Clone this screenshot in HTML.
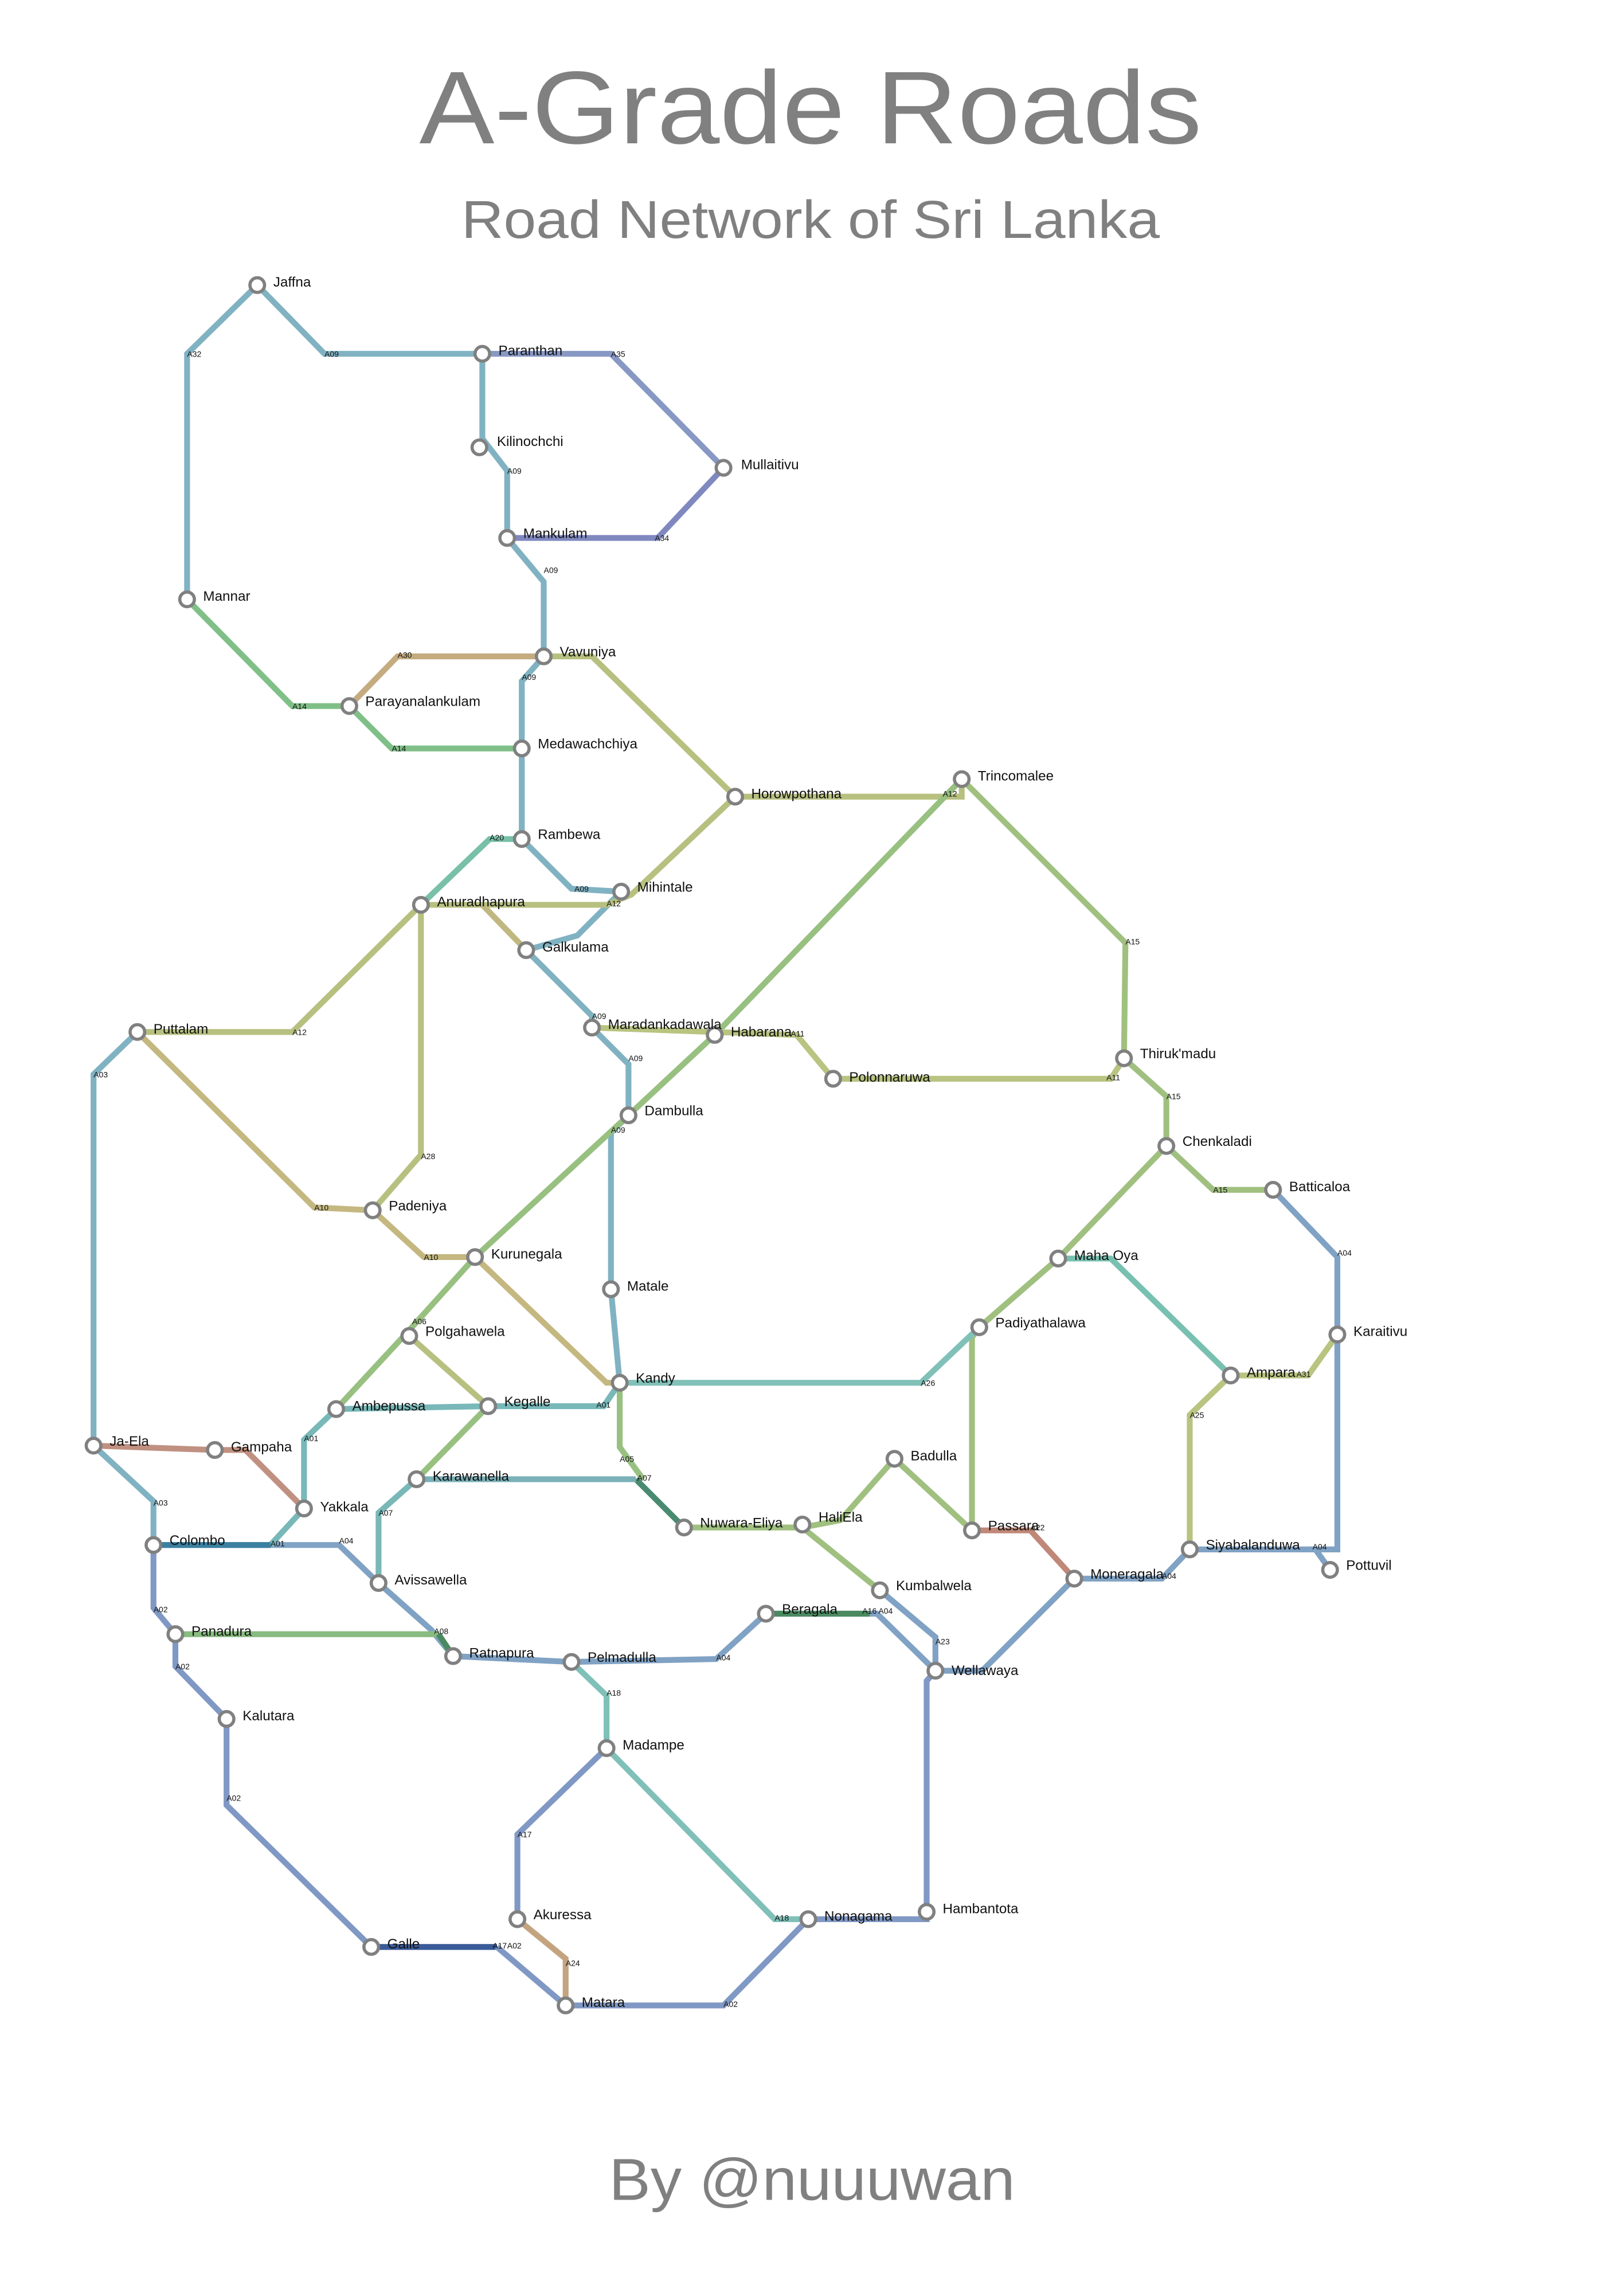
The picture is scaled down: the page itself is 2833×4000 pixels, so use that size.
<!DOCTYPE html>
<html><head><meta charset="utf-8"><style>
html,body{margin:0;padding:0;background:#fff}
svg{display:block}
text{font-family:"Liberation Sans",sans-serif}
.n{fill:#fff;stroke:#808080;stroke-width:2.2}
.l{font-size:9.5px;fill:#111}
.r{font-size:5.5px;fill:#111}
path{fill:none;stroke-width:4;stroke-linejoin:miter}
</style></head><body>
<svg width="2833" height="4000" viewBox="0 0 1100 1553" xmlns="http://www.w3.org/2000/svg">
<rect width="1100" height="1553" fill="#fff"/>
<text x="549" y="97" text-anchor="middle" font-size="70" fill="#808080" textLength="530" lengthAdjust="spacingAndGlyphs">A-Grade Roads</text>
<text x="549" y="161" text-anchor="middle" font-size="36" fill="#808080" textLength="473" lengthAdjust="spacingAndGlyphs">Road Network of Sri Lanka</text>
<text x="550" y="1490" text-anchor="middle" font-size="40" fill="#808080" textLength="275" lengthAdjust="spacingAndGlyphs">By @nuuuwan</text>

<g transform="scale(0.99)">
<!-- roads -->
<path stroke="#80b2c2" d="M128,410 L128,242 L176,195 L222,242 L330,242 L330,300 L347,322 L347,368 L372,398 L372,449 L357,466 L357,574 L391,608 L425,610 L395,640 L360,650 L405,695 L405,703 L430,728 L430,763 L418,775 L418,882 L424,946"/>
<path stroke="#8898c4" d="M330,242 L418,242 L495,320"/>
<path stroke="#8088c0" d="M347,368 L450,368 L495,320"/>
<path stroke="#80c088" d="M128,410 L200,483 L239,483 L268,512 L357,512"/>
<path stroke="#c4ac80" d="M239,483 L272,449 L372,449"/>
<path stroke="#b8c080" d="M372,449 L405,449 L503,545 L658,545 L658,533"/>
<path stroke="#b8c080" d="M503,545 L432,612 L415,619 L288,619 L200,706 L94,706"/>
<path stroke="#78c0a8" d="M357,574 L335,574 L288,619"/>
<path stroke="#b8c080" d="M288,619 L288,790 L255,828"/>
<path stroke="#c0b880" d="M330,619 L360,650"/>
<path stroke="#c4b880" d="M94,706 L215,826 L255,828 L290,860 L325,860 L415,946 L424,946"/>
<path stroke="#98c080" d="M658,533 L489,708 L430,763 L325,860 L280,910 L230,964"/>
<path stroke="#b8c480" d="M405,703 L545,708 L570,738 L760,738 L769,724"/>
<path stroke="#a0c080" d="M658,533 L770,645 L769,724 L798,750 L798,784 L830,814 L871,814"/>
<path stroke="#a0c080" d="M798,784 L724,861 L670,908 L665,915 L665,1047 L612,998 L575,1040 L549,1045 L468,1045"/>
<path stroke="#a0c080" d="M549,1045 L602,1088"/>
<path stroke="#98c080" d="M424,946 L424,990 L440,1012"/>
<path stroke="#4a8a70" d="M435,1012 L468,1045"/>
<path stroke="#78c0b0" d="M724,861 L760,861 L842,941"/>
<path stroke="#80c0b8" d="M424,946 L630,946 L670,908"/>
<path stroke="#80a2c4" d="M871,814 L915,860 L915,1060 L900,1060 L910,1074"/>
<path stroke="#80a2c4" d="M814,1060 L900,1060"/>
<path stroke="#80a2c4" d="M814,1060 L795,1080 L735,1080 L672,1143 L640,1143 L600,1104 L524,1104 L490,1135 L391,1137 L310,1133 L295,1115 L259,1083 L232,1057 L105,1057"/>
<path stroke="#80a2c4" d="M602,1088 L640,1120 L640,1143"/>
<path stroke="#4a8a60" d="M524,1104 L595,1104"/>
<path stroke="#b8c480" d="M915,913 L895,941 L842,941 L814,968 L814,1060"/>
<path stroke="#c08878" d="M665,1047 L705,1047 L735,1080"/>
<path stroke="#78b8b8" d="M424,946 L413,962 L334,962 L230,964 L208,985 L208,1032 L185,1057"/>
<path stroke="#3a80a0" d="M185,1057 L105,1057"/>
<path stroke="#b8c080" d="M280,914 L334,962"/>
<path stroke="#98c080" d="M334,962 L285,1012"/>
<path stroke="#7ab0b8" d="M285,1012 L435,1012"/>
<path stroke="#7ab8b8" d="M285,1012 L259,1035 L259,1083"/>
<path stroke="#80b2c2" d="M94,706 L64,735 L64,989 L105,1027 L105,1057"/>
<path stroke="#c09080" d="M64,989 L147,992 L168,992 L208,1032"/>
<path stroke="#8098c4" d="M105,1057 L105,1100 L120,1118 L120,1140 L155,1176 L155,1235 L254,1332"/>
<path stroke="#88bc80" d="M120,1118 L300,1118"/>
<path stroke="#4a8a60" d="M300,1118 L310,1133"/>
<path stroke="#80c0b8" d="M391,1137 L415,1160 L415,1196 L530,1313 L553,1313"/>
<path stroke="#8098c4" d="M415,1196 L354,1255 L354,1313"/>
<path stroke="#c4a480" d="M354,1313 L387,1340 L387,1372"/>
<path stroke="#3a5a98" d="M254,1332 L340,1332"/>
<path stroke="#8098c4" d="M340,1332 L387,1372 L495,1372 L553,1313 L634,1313 L634,1150 L640,1143"/>

<!-- road labels -->
<g class="r">
<text x="128" y="244">A32</text><text x="222" y="244">A09</text><text x="418" y="244">A35</text>
<text x="347" y="324">A09</text><text x="448" y="370">A34</text><text x="372" y="392">A09</text>
<text x="272" y="450">A30</text><text x="357" y="465">A09</text><text x="200" y="485">A14</text><text x="268" y="514">A14</text>
<text x="645" y="545">A12</text><text x="335" y="575">A20</text><text x="393" y="610">A09</text><text x="415" y="620">A12</text>
<text x="200" y="708">A12</text><text x="405" y="697">A09</text><text x="430" y="726">A09</text><text x="418" y="775">A09</text>
<text x="541" y="709">A11</text><text x="757" y="739">A11</text><text x="770" y="646">A15</text><text x="798" y="752">A15</text><text x="830" y="816">A15</text>
<text x="64" y="737">A03</text><text x="288" y="793">A28</text><text x="215" y="828">A10</text><text x="290" y="862">A10</text>
<text x="915" y="859">A04</text><text x="887" y="942">A31</text><text x="814" y="970">A25</text><text x="898" y="1060">A04</text><text x="795" y="1080">A04</text>
<text x="630" y="948">A26</text><text x="282" y="906">A06</text><text x="208" y="986">A01</text><text x="408" y="963">A01</text><text x="185" y="1058">A01</text>
<text x="232" y="1056">A04</text><text x="424" y="1000">A05</text><text x="436" y="1013">A07</text><text x="259" y="1037">A07</text>
<text x="105" y="1030">A03</text><text x="105" y="1103">A02</text><text x="120" y="1142">A02</text><text x="155" y="1232">A02</text>
<text x="297" y="1118">A08</text><text x="490" y="1136">A04</text><text x="590" y="1104">A16</text><text x="601" y="1104">A04</text>
<text x="640" y="1125">A23</text><text x="705" y="1047">A22</text><text x="415" y="1160">A18</text><text x="354" y="1257">A17</text>
<text x="530" y="1314">A18</text><text x="337" y="1333">A17</text><text x="347" y="1333">A02</text><text x="387" y="1345">A24</text><text x="495" y="1373">A02</text>
</g>

<!-- nodes -->
<g>
<circle class="n" cx="176" cy="195" r="5"/><circle class="n" cx="330" cy="242" r="5"/><circle class="n" cx="328" cy="306" r="5"/>
<circle class="n" cx="347" cy="368" r="5"/><circle class="n" cx="495" cy="320" r="5"/><circle class="n" cx="128" cy="410" r="5"/>
<circle class="n" cx="372" cy="449" r="5"/><circle class="n" cx="239" cy="483" r="5"/><circle class="n" cx="357" cy="512" r="5"/>
<circle class="n" cx="503" cy="545" r="5"/><circle class="n" cx="658" cy="533" r="5"/><circle class="n" cx="357" cy="574" r="5"/>
<circle class="n" cx="425" cy="610" r="5"/><circle class="n" cx="288" cy="619" r="5"/><circle class="n" cx="360" cy="650" r="5"/>
<circle class="n" cx="94" cy="706" r="5"/><circle class="n" cx="405" cy="703" r="5"/><circle class="n" cx="489" cy="708" r="5"/>
<circle class="n" cx="570" cy="738" r="5"/><circle class="n" cx="769" cy="724" r="5"/><circle class="n" cx="430" cy="763" r="5"/>
<circle class="n" cx="798" cy="784" r="5"/><circle class="n" cx="871" cy="814" r="5"/><circle class="n" cx="255" cy="828" r="5"/>
<circle class="n" cx="325" cy="860" r="5"/><circle class="n" cx="724" cy="861" r="5"/><circle class="n" cx="418" cy="882" r="5"/>
<circle class="n" cx="670" cy="908" r="5"/><circle class="n" cx="915" cy="913" r="5"/><circle class="n" cx="280" cy="914" r="5"/>
<circle class="n" cx="424" cy="946" r="5"/><circle class="n" cx="842" cy="941" r="5"/><circle class="n" cx="230" cy="964" r="5"/>
<circle class="n" cx="334" cy="962" r="5"/><circle class="n" cx="64" cy="989" r="5"/><circle class="n" cx="147" cy="992" r="5"/>
<circle class="n" cx="612" cy="998" r="5"/><circle class="n" cx="285" cy="1012" r="5"/><circle class="n" cx="208" cy="1032" r="5"/>
<circle class="n" cx="468" cy="1045" r="5"/><circle class="n" cx="549" cy="1043" r="5"/><circle class="n" cx="665" cy="1047" r="5"/>
<circle class="n" cx="105" cy="1057" r="5"/><circle class="n" cx="814" cy="1060" r="5"/><circle class="n" cx="910" cy="1074" r="5"/>
<circle class="n" cx="735" cy="1080" r="5"/><circle class="n" cx="259" cy="1083" r="5"/><circle class="n" cx="602" cy="1088" r="5"/>
<circle class="n" cx="524" cy="1104" r="5"/><circle class="n" cx="120" cy="1118" r="5"/><circle class="n" cx="310" cy="1133" r="5"/>
<circle class="n" cx="391" cy="1137" r="5"/><circle class="n" cx="640" cy="1143" r="5"/><circle class="n" cx="155" cy="1176" r="5"/>
<circle class="n" cx="415" cy="1196" r="5"/><circle class="n" cx="354" cy="1313" r="5"/><circle class="n" cx="634" cy="1308" r="5"/>
<circle class="n" cx="553" cy="1313" r="5"/><circle class="n" cx="254" cy="1332" r="5"/><circle class="n" cx="387" cy="1372" r="5"/>
</g>

<!-- node labels -->
<g class="l">
<text x="187" y="196">Jaffna</text><text x="341" y="243">Paranthan</text><text x="340" y="305">Kilinochchi</text>
<text x="358" y="368">Mankulam</text><text x="507" y="321">Mullaitivu</text><text x="139" y="411">Mannar</text>
<text x="383" y="449">Vavuniya</text><text x="250" y="483">Parayanalankulam</text><text x="368" y="512">Medawachchiya</text>
<text x="514" y="546">Horowpothana</text><text x="669" y="534">Trincomalee</text><text x="368" y="574">Rambewa</text>
<text x="436" y="610">Mihintale</text><text x="299" y="620">Anuradhapura</text><text x="371" y="651">Galkulama</text>
<text x="105" y="707">Puttalam</text><text x="416" y="704">Maradankadawala</text><text x="500" y="709">Habarana</text>
<text x="581" y="740">Polonnaruwa</text><text x="780" y="724">Thiruk'madu</text><text x="441" y="763">Dambulla</text>
<text x="809" y="784">Chenkaladi</text><text x="882" y="815">Batticaloa</text><text x="266" y="828">Padeniya</text>
<text x="336" y="861">Kurunegala</text><text x="735" y="862">Maha Oya</text><text x="429" y="883">Matale</text>
<text x="681" y="908">Padiyathalawa</text><text x="926" y="914">Karaitivu</text><text x="291" y="914">Polgahawela</text>
<text x="435" y="946">Kandy</text><text x="853" y="942">Ampara</text><text x="241" y="965">Ambepussa</text>
<text x="345" y="962">Kegalle</text><text x="75" y="989">Ja-Ela</text><text x="158" y="993">Gampaha</text>
<text x="623" y="999">Badulla</text><text x="296" y="1013">Karawanella</text><text x="219" y="1034">Yakkala</text>
<text x="479" y="1045">Nuwara-Eliya</text><text x="560" y="1041">HaliEla</text><text x="676" y="1047">Passara</text>
<text x="116" y="1057">Colombo</text><text x="825" y="1060">Siyabalanduwa</text><text x="921" y="1074">Pottuvil</text>
<text x="746" y="1080">Moneragala</text><text x="270" y="1084">Avissawella</text><text x="613" y="1088">Kumbalwela</text>
<text x="535" y="1104">Beragala</text><text x="131" y="1119">Panadura</text><text x="321" y="1134">Ratnapura</text>
<text x="402" y="1137">Pelmadulla</text><text x="651" y="1146">Wellawaya</text><text x="166" y="1177">Kalutara</text>
<text x="426" y="1197">Madampe</text><text x="365" y="1313">Akuressa</text><text x="645" y="1309">Hambantota</text>
<text x="564" y="1314">Nonagama</text><text x="265" y="1333">Galle</text><text x="398" y="1373">Matara</text>
</g>
</g>
</svg>
</body></html>
